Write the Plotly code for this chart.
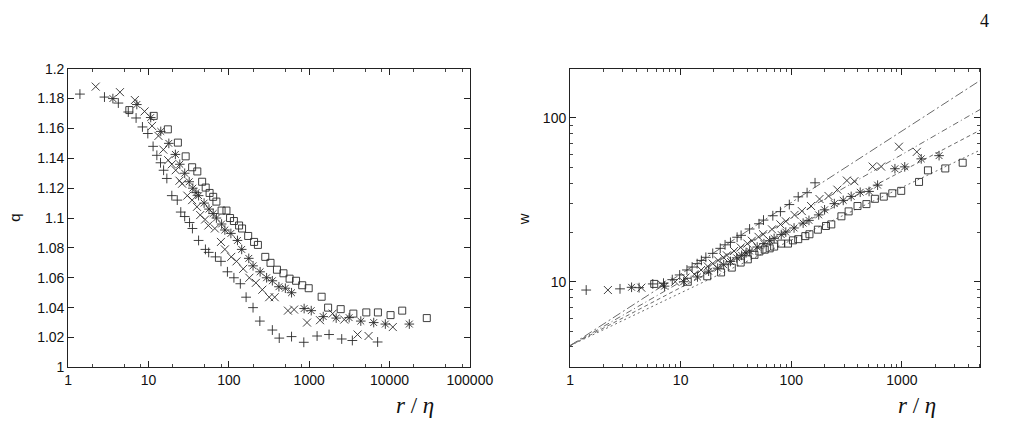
import plotly.graph_objects as go
import math

# ---------------- data: left panel (q vs r/eta) ----------------
plus_x = [1.40, 2.83, 4.21, 5.6, 7.0, 8.4, 9.8, 11.4, 12.7, 14.1, 15.4, 16.9, 19.5, 22.8, 25.2, 28.2, 32.4, 35.2,
          42.0, 51.1, 56.1, 68.1, 79.8, 96, 115.6, 139, 164, 200, 243, 348, 424, 603, 857, 1254, 1767, 2540, 3446, 7111]
plus_q = [1.183, 1.181, 1.177, 1.171, 1.167, 1.161, 1.1566, 1.148, 1.142, 1.137, 1.132, 1.1265, 1.115, 1.112, 1.104,
          1.101, 1.097, 1.093, 1.085, 1.079, 1.077, 1.074, 1.071, 1.064, 1.060, 1.056, 1.047, 1.040, 1.031, 1.025,
          1.0196, 1.0206, 1.0168, 1.021, 1.022, 1.019, 1.018, 1.017]

cross_x = [2.20, 4.41, 6.76, 8.93, 11.06, 13.3, 15.3, 17.6, 19.5, 21.8, 24.3, 26.2, 30.4, 34.9, 40.1, 44.0, 50.6, 55.6,
           66.9, 79.8, 89.2, 107, 124.6, 151, 180, 217, 261, 318, 372, 544, 649, 940, 1364, 1959, 2734, 4000, 5483, 10990]
cross_q = [1.188, 1.1843, 1.179, 1.1714, 1.1617, 1.155, 1.1458, 1.1387, 1.136, 1.132, 1.125, 1.123, 1.115, 1.112,
           1.1075, 1.102, 1.099, 1.095, 1.093, 1.084, 1.079, 1.074, 1.071, 1.066, 1.060, 1.0566, 1.052, 1.047, 1.047,
           1.038, 1.0387, 1.030, 1.0316, 1.036, 1.032, 1.022, 1.021, 1.027]

star_x = [3.60, 7.15, 10.65, 14.2, 17.9, 21.6, 24.5, 28.2, 32.1, 35.6, 39.0, 42.0, 49.2, 56.6, 63.8, 70.0, 81.2, 89.2,
          106, 128, 144.5, 177, 200, 245, 295, 348, 420, 505, 603, 865, 1061, 1496, 2168, 3143, 4389, 6357, 8875, 17640]
star_q = [1.180, 1.176, 1.1673, 1.158, 1.150, 1.1426, 1.136, 1.130, 1.1243, 1.120, 1.117, 1.115, 1.110, 1.106, 1.103,
          1.100, 1.096, 1.092, 1.0897, 1.085, 1.079, 1.073, 1.068, 1.064, 1.060, 1.058, 1.054, 1.053, 1.050, 1.0394,
          1.038, 1.034, 1.033, 1.0333, 1.031, 1.030, 1.029, 1.029]

square_x = [5.77, 11.6, 17.4, 23.2, 29.0, 34.9, 40.5, 46.5, 51.5, 57.6, 63.8, 70.0, 81.2, 93.4, 103.5, 115.6, 134, 146,
            174, 206, 230, 284, 330, 397, 478, 570, 686, 819, 986, 1429, 1720, 2467, 3545, 5140, 7172, 10300, 14390, 29100]
square_q = [1.1723, 1.1684, 1.1594, 1.1505, 1.1413, 1.134, 1.1312, 1.1243, 1.1204, 1.1168, 1.1142, 1.111, 1.105,
            1.105, 1.100, 1.098, 1.095, 1.093, 1.088, 1.084, 1.082, 1.074, 1.070, 1.0654, 1.063, 1.0594, 1.058, 1.055,
            1.053, 1.0473, 1.040, 1.039, 1.036, 1.0368, 1.0368, 1.035, 1.038, 1.033]

# ---------------- data: right panel (w vs r/eta), same r/eta grid, shorter ----------------
plus_w = [8.9, 9.05, 9.2, 9.7, 9.8, 10.3, 11.0, 11.8, 12.3, 12.9, 13.5, 14.1, 14.9, 16.0, 16.8, 17.4, 18.7, 19.2,
          21.0, 22.6, 23.8, 25.3, 26.8, 29.6, 33.0, 35.0, 40.2]
cross_w = [8.9, 9.2, 9.6, 10.0, 10.6, 11.1, 11.8, 12.4, 12.9, 13.5, 14.1, 14.5, 15.4, 16.2, 17.1, 17.8, 18.8, 19.5,
           20.9, 22.4, 23.4, 25.6, 27.0, 29.0, 32.0, 33.4, 36.5, 41.5, 41.1, 50.5, 50.5, 66.8, 62.1]
star_w = [9.25, 9.4, 10.0, 10.7, 11.6, 12.1, 12.7, 13.3, 14.0, 14.5, 15.0, 15.4, 16.3, 17.1, 17.8, 18.4, 19.4, 20.1,
          21.3, 22.8, 23.7, 25.6, 27.5, 30.0, 31.4, 33.2, 35.2, 35.6, 38.9, 49.0, 50.3, 56.3, 58.9]
square_w = [9.7, 10.0, 10.8, 11.4, 12.2, 13.1, 13.7, 14.6, 15.3, 15.7, 16.0, 16.4, 17.1, 17.1, 17.9, 18.2, 19.0, 19.5,
            20.8, 21.9, 22.4, 25.1, 26.9, 29.0, 29.8, 32.1, 33.1, 34.7, 35.9, 40.7, 47.9, 49.2, 53.3]

# fitted power-law lines (start / end points)
fit_x = [1, 5129]
fit_w = [[4.07, 170.0], [4.07, 113.0], [4.07, 84.5], [4.07, 63.8]]
fit_dash = ["9px,3px,2px,3px", "6px,3px,1px,3px", "4px,3px", "2px,3px"]

left_xticks = [1, 10, 100, 1000, 10000, 100000]
left_yticks = [1.0, 1.02, 1.04, 1.06, 1.08, 1.1, 1.12, 1.14, 1.16, 1.18, 1.2]
right_xticks = [1, 10, 100, 1000]
right_yticks = [10, 100]

W, H = 1020, 438
def px(x):
    return x / W
def py(y):
    return 1 - y / H

INK = "#2a2a2a"
styles = [
    dict(symbol="cross-thin-open", size=7),
    dict(symbol="x-thin-open", size=8),
    dict(symbol="asterisk-open", size=8),
    dict(symbol="square-open", size=7),
]

fig = go.Figure()

left_series = [(plus_x, plus_q), (cross_x, cross_q), (star_x, star_q), (square_x, square_q)]
for (xs, ys), st in zip(left_series, styles):
    fig.add_trace(go.Scatter(x=xs, y=ys, mode="markers", xaxis="x", yaxis="y",
                             marker=dict(symbol=st["symbol"], size=st["size"], color=INK,
                                         line=dict(color=INK, width=0.9)),
                             showlegend=False))

for fw, dash in zip(fit_w, fit_dash):
    fig.add_trace(go.Scatter(x=fit_x, y=fw, mode="lines", xaxis="x2", yaxis="y2",
                             line=dict(color="#6a6a6a", width=1, dash=dash), showlegend=False))

right_series = [(plus_x, plus_w), (cross_x, cross_w), (star_x, star_w), (square_x, square_w)]
for (xs, ws), st in zip(right_series, styles):
    fig.add_trace(go.Scatter(x=xs[:len(ws)], y=ws, mode="markers", xaxis="x2", yaxis="y2",
                             marker=dict(symbol=st["symbol"], size=st["size"], color=INK,
                                         line=dict(color=INK, width=0.9)),
                             showlegend=False))

tickfont = dict(family="Liberation Sans, Arial, sans-serif", size=14, color="#111")
frame = dict(showline=True, linecolor="#222", linewidth=1, mirror="allticks", ticks="inside",
             ticklen=6, tickcolor="#222", showgrid=False, zeroline=False, tickfont=tickfont)

left_minor = [m * 10 ** d for d in range(5) for m in (2, 5, 8)]
right_xminor = [m * 10 ** d for d in range(4) for m in range(2, 10) if m * 10 ** d < 5129]
right_yminor = [3, 4, 5, 6, 7, 8, 9, 20, 30, 40, 50, 60, 70, 80, 90, 200]

dom_y = [py(373), py(63)]

fig.update_layout(
    width=W, height=H, margin=dict(l=0, r=0, t=0, b=0),
    paper_bgcolor="white", plot_bgcolor="white",
    xaxis=dict(type="log", range=[0, 5], domain=[px(66), px(479)], anchor="y",
               tickmode="array", tickvals=left_xticks, ticktext=[str(v) for v in left_xticks],
               minor=dict(tickmode="array", tickvals=left_minor, ticks="inside", ticklen=3, tickcolor="#444"),
               **frame),
    yaxis=dict(range=[1.0, 1.2], domain=dom_y, anchor="x",
               tickmode="array", tickvals=left_yticks, ticktext=["1", "1.02", "1.04", "1.06", "1.08", "1.1",
                                                                 "1.12", "1.14", "1.16", "1.18", "1.2"],
               **frame),
    xaxis2=dict(type="log", range=[0, math.log10(5129)], domain=[px(582), px(1004)], anchor="y2",
                tickmode="array", tickvals=right_xticks, ticktext=[str(v) for v in right_xticks],
                minor=dict(tickmode="array", tickvals=right_xminor, ticks="inside", ticklen=3, tickcolor="#444"),
                **frame),
    yaxis2=dict(type="log", range=[math.log10(3), math.log10(200)], domain=dom_y, anchor="x2",
                tickmode="array", tickvals=right_yticks, ticktext=[str(v) for v in right_yticks],
                minor=dict(tickmode="array", tickvals=right_yminor, ticks="inside", ticklen=3, tickcolor="#444"),
                **frame),
)

label_font = dict(family="Liberation Serif, DejaVu Serif, serif", size=23, color="#111")
annots = [
    dict(x=px(423), y=py(413), text="<i>r</i> / <i>η</i>", font=label_font),
    dict(x=px(939), y=py(413), text="<i>r</i> / <i>η</i>", font=label_font),
    dict(x=px(10), y=py(218), text="q", textangle=-90,
         font=dict(family="Liberation Sans, Arial, sans-serif", size=15, color="#111")),
    dict(x=px(534), y=py(219), text="w", textangle=-90,
         font=dict(family="Liberation Sans, Arial, sans-serif", size=15, color="#111")),
    dict(x=px(1008), y=py(14), text="4",
         font=dict(family="Liberation Serif, DejaVu Serif, serif", size=18, color="#111")),
]
for a in annots:
    fig.add_annotation(xref="paper", yref="paper", showarrow=False, xanchor="center", yanchor="middle", **a)

fig.write_html("out.html")
